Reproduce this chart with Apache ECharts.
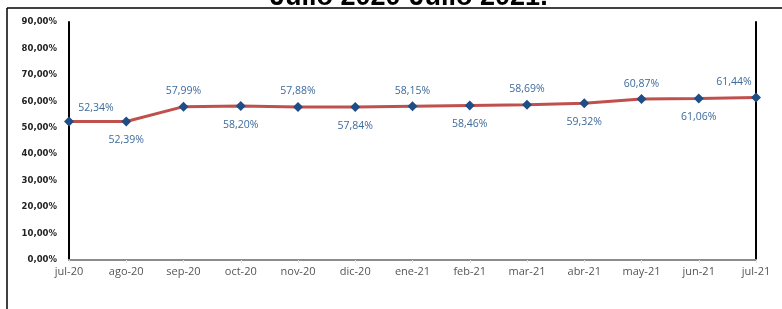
<!DOCTYPE html>
<html>
<head>
<meta charset="utf-8">
<script src="https://cdn.jsdelivr.net/npm/echarts@6/dist/echarts.min.js"></script>
<style>
  html, body { margin: 0; padding: 0; background: #fff; }
  #chart { width: 782px; height: 309px; }
</style>
</head>
<body>
<div id="chart"></div>
<script>
// data
const months = ["jul-20", "ago-20", "sep-20", "oct-20", "nov-20", "dic-20", "ene-21",
	"feb-21", "mar-21", "abr-21", "may-21", "jun-21", "jul-21"];
const rates = [52.34, 52.39, 57.99, 58.20, 57.88, 57.84, 58.15, 58.46, 58.69, 59.32, 60.87, 61.06, 61.44];
const yTicks = [0, 10, 20, 30, 40, 50, 60, 70, 80, 90];

const fmt = (v) => v.toFixed(2).replace(".", ",") + "%";

// labels alternate above / below the line
const seriesData = rates.map((v, i) => {
	let label = i % 2 === 0 ? { position: "top", distance: 5 } : { position: "bottom", distance: 8 };
	if (i === 0) label = { position: "top", distance: 5, offset: [27, 2] };
	if (i === rates.length - 1) label = { position: "top", distance: 5, offset: [-22, 0] };
	return { value: v, label };
});

const chart = echarts.init(document.getElementById("chart"));

chart.setOption({
	animation: false,
	title: {
		text: "Julio 2020-Julio 2021.",
		left: 265,
		top: -21,
		textStyle: { fontFamily: "Liberation Sans", fontSize: 27, fontWeight: "bold", color: "#000" },
	},
	grid: { left: 69, right: 26, top: 22, bottom: 49 },
	xAxis: [
		{
			type: "category",
			data: months,
			boundaryGap: false,
			axisLine: { lineStyle: { color: "#dce6f2", width: 2 } },
			axisTick: { show: true, length: 3, lineStyle: { color: "#dce6f2" } },
			axisLabel: { color: "#555", fontFamily: "Open Sans", fontSize: 11, margin: 6 },
		},
		{
			type: "category",
			data: months,
			position: "top",
			boundaryGap: false,
			axisLine: { lineStyle: { color: "#8c8c8c", width: 2 } },
			axisTick: { show: false },
			axisLabel: { show: false },
		},
	],
	yAxis: [
		{
			type: "value",
			min: yTicks[0],
			max: yTicks[yTicks.length - 1],
			interval: 10,
			splitLine: { show: false },
			axisLine: { show: true, lineStyle: { color: "#000", width: 2 } },
			axisTick: { show: false },
			axisLabel: {
				formatter: (v) => v.toFixed(2).replace(".", ",") + "%",
				color: "#222",
				fontFamily: "DejaVu Sans",
				fontWeight: "bold",
				fontSize: 8.5,
				margin: 12,
			},
		},
		{
			type: "value",
			min: 0,
			max: 90,
			interval: 10,
			position: "right",
			splitLine: { show: false },
			axisLine: { show: true, lineStyle: { color: "#000", width: 2 } },
			axisTick: { show: false },
			axisLabel: { show: false },
		},
	],
	series: [
		{
			type: "line",
			data: seriesData,
			symbol: "diamond",
			symbolSize: 10,
			itemStyle: { color: "#1f4e86" },
			lineStyle: { color: "#c0504d", width: 3 },
			label: {
				show: true,
				color: "#3d6a9c",
				fontFamily: "Open Sans",
				fontSize: 10.5,
				formatter: (p) => fmt(p.value),
			},
		},
	],
	graphic: [
		{ type: "line", shape: { x1: 7, y1: 8, x2: 782, y2: 8 }, style: { stroke: "#000", lineWidth: 1.5 } },
		{ type: "line", shape: { x1: 7, y1: 8, x2: 7, y2: 309 }, style: { stroke: "#000", lineWidth: 1.5 } },
	],
});
</script>
</body>
</html>
